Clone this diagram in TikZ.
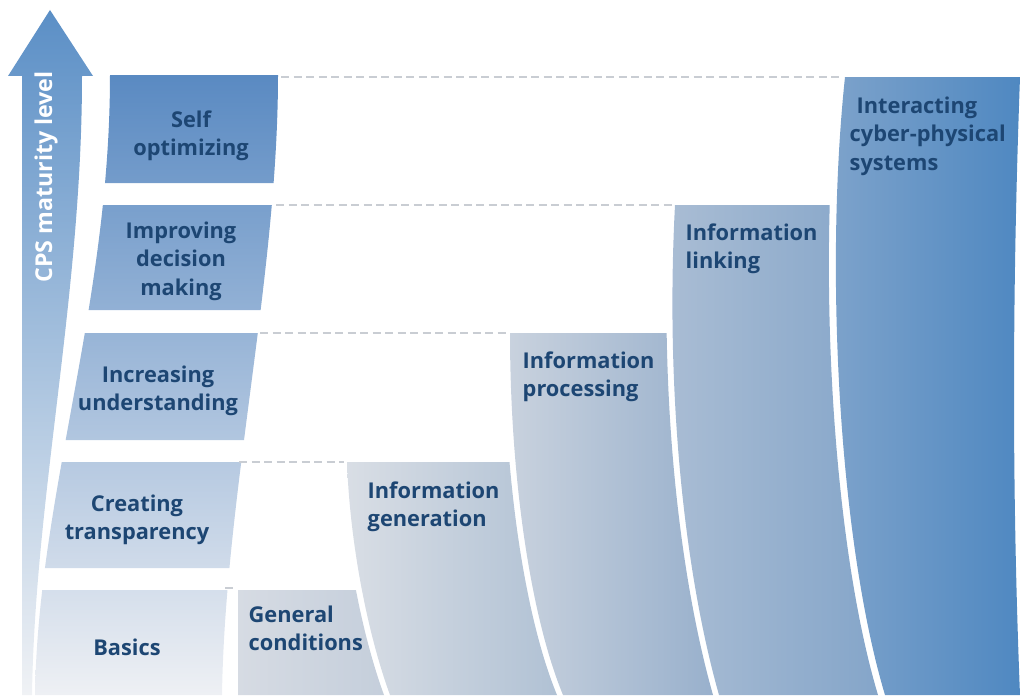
\documentclass[tikz,border=0pt]{standalone}
\usepackage{fontspec}
\setmainfont{Open Sans}
\usepackage{tikz}

\definecolor{textblue}{HTML}{1D4673}
\definecolor{guidegray}{HTML}{C9CDD3}

\begin{document}
\begin{tikzpicture}[
		lbl/.style={font=\fontsize{6.2}{8.1}\selectfont\bfseries, text=textblue, inner sep=0pt},
		guide/.style={draw=guidegray, line width=0.4pt, dash pattern=on 0.8mm off 0.45mm}
	]
		\useasboundingbox (0,0) rectangle (10.22,6.95);

		% edges of the right columns
		\def\curveinfogen{(3.47,2.33) .. controls (3.50,1.5) and (3.68,0.6) .. (3.90,0)}
		\def\curveinfoproc{(5.10,3.62) .. controls (5.10,2.2) and (5.30,0.8) .. (5.63,0)}
		\def\curveinfolink{(6.75,4.90) .. controls (6.65,3.0) and (6.85,1.2) .. (7.19,0)}
		\def\curveinteract{(8.45,6.18) .. controls (8.24,4.2) and (8.40,1.5) .. (8.85,0)}
		\def\curveright{(10.20,6.18) .. controls (10.12,4.0) and (10.12,2.0) .. (10.20,0)}

		% maturity arrow
		\shade[top color={rgb,255:red,91;green,143;blue,198}, middle color={rgb,255:red,160;green,183;blue,211}, bottom color={rgb,255:red,240;green,242;blue,245}]
			(0.22,0) -- (0.22,6.19) -- (0.08,6.19) -- (0.50,6.85) -- (0.93,6.19) -- (0.82,6.19)
			.. controls (0.82,4.0) and (0.35,2.0) .. (0.32,0) -- cycle;
		\node[lbl, font=\fontsize{6.6}{8.1}\selectfont\bfseries, text=white, rotate=90] (cps) at (0.46,5.18) {CPS maturity level};

		% left column of levels
		\begin{scope}
			\clip (1.10,6.20) .. controls (1.10,3.9) and (0.38,2.0) .. (0.35,0) -- (2.22,0)
				.. controls (2.25,2.0) and (2.78,4.2) .. (2.78,6.20) -- cycle;
			\clip (0,5.12) rectangle (3,6.20) (0,3.85) rectangle (3,4.90) (0,2.55) rectangle (3,3.62)
				(0,1.27) rectangle (3,2.33) (0,0) rectangle (3,1.05);
			\shade[top color={rgb,255:red,90;green,138;blue,194}, middle color={rgb,255:red,157;green,180;blue,209}, bottom color={rgb,255:red,238;green,240;blue,244}]
				(0,0) rectangle (3,6.20);
		\end{scope}

		% general conditions
		\begin{scope}
			\clip (2.38,0) rectangle (11,1.05);
			\clip[xshift=-0.6mm] \curveinfogen -- (-1,0) -- (-1,2.33) -- cycle;
			\shade[left color={rgb,255:red,214;green,219;blue,227}, right color={rgb,255:red,196;green,206;blue,219}] (2.38,0) rectangle (3.90,1.05);
		\end{scope}

		% information generation
		\begin{scope}
			\clip \curveinfogen -- (11,0) -- (11,2.33) -- cycle;
			\clip[xshift=-0.6mm] \curveinfoproc -- (-1,0) -- (-1,3.62) -- cycle;
			\shade[left color={rgb,255:red,217;green,222;blue,229}, right color={rgb,255:red,176;green,193;blue,212}] (3.45,0) rectangle (5.60,2.33);
		\end{scope}

		% information processing
		\begin{scope}
			\clip \curveinfoproc -- (11,0) -- (11,3.62) -- cycle;
			\clip[xshift=-0.6mm] \curveinfolink -- (-1,0) -- (-1,4.90) -- cycle;
			\shade[left color={rgb,255:red,201;green,210;blue,222}, right color={rgb,255:red,152;green,176;blue,204}] (5.08,0) rectangle (7.15,3.62);
		\end{scope}

		% information linking
		\begin{scope}
			\clip \curveinfolink -- (11,0) -- (11,4.90) -- cycle;
			\clip[xshift=-0.7mm] \curveinteract -- (-1,0) -- (-1,6.18) -- cycle;
			\shade[left color={rgb,255:red,170;green,189;blue,212}, right color={rgb,255:red,132;green,165;blue,201}] (6.65,0) rectangle (8.80,4.90);
		\end{scope}

		% interacting systems
		\begin{scope}
			\clip \curveinteract -- (11,0) -- (11,6.18) -- cycle;
			\clip \curveright -- (-1,0) -- (-1,6.18) -- cycle;
			\shade[left color={rgb,255:red,126;green,163;blue,203}, right color={rgb,255:red,79;green,136;blue,193}] (8.28,0) rectangle (10.20,6.18);
		\end{scope}

		% dashed level lines
		\draw[guide] (2.81,6.18) -- (8.42,6.18);
		\draw[guide] (2.76,4.90) -- (6.72,4.90);
		\draw[guide] (2.60,3.62) -- (5.07,3.62);
		\draw[guide] (2.39,2.33) -- (3.44,2.33);
		\draw[guide] (2.25,1.07) -- (2.37,1.07);

		\node[lbl, align=center] (self) at (1.91,5.59) {Self\\optimizing};
		\node[lbl, align=center] (improving) at (1.81,4.34) {Improving\\decision\\making};
		\node[lbl, align=center] (increasing) at (1.58,3.04) {Increasing\\understanding};
		\node[lbl, align=center] (creating) at (1.37,1.75) {Creating\\transparency};
		\node[lbl, align=center] (basics) at (1.27,0.48) {Basics};

		\node[lbl, anchor=north west, align=left] (general) at (2.48,0.90) {General\\conditions};
		\node[lbl, anchor=north west, align=left] (infogen) at (3.67,2.14) {Information\\generation};
		\node[lbl, anchor=north west, align=left] (infoproc) at (5.22,3.44) {Information\\processing};
		\node[lbl, anchor=north west, align=left] (infolink) at (6.85,4.72) {Information\\linking};
		\node[lbl, anchor=north west, align=left] (interact) at (8.49,5.99) {\hspace*{0.7mm}Interacting\\cyber-physical\\systems};

	\end{tikzpicture}
\end{document}
